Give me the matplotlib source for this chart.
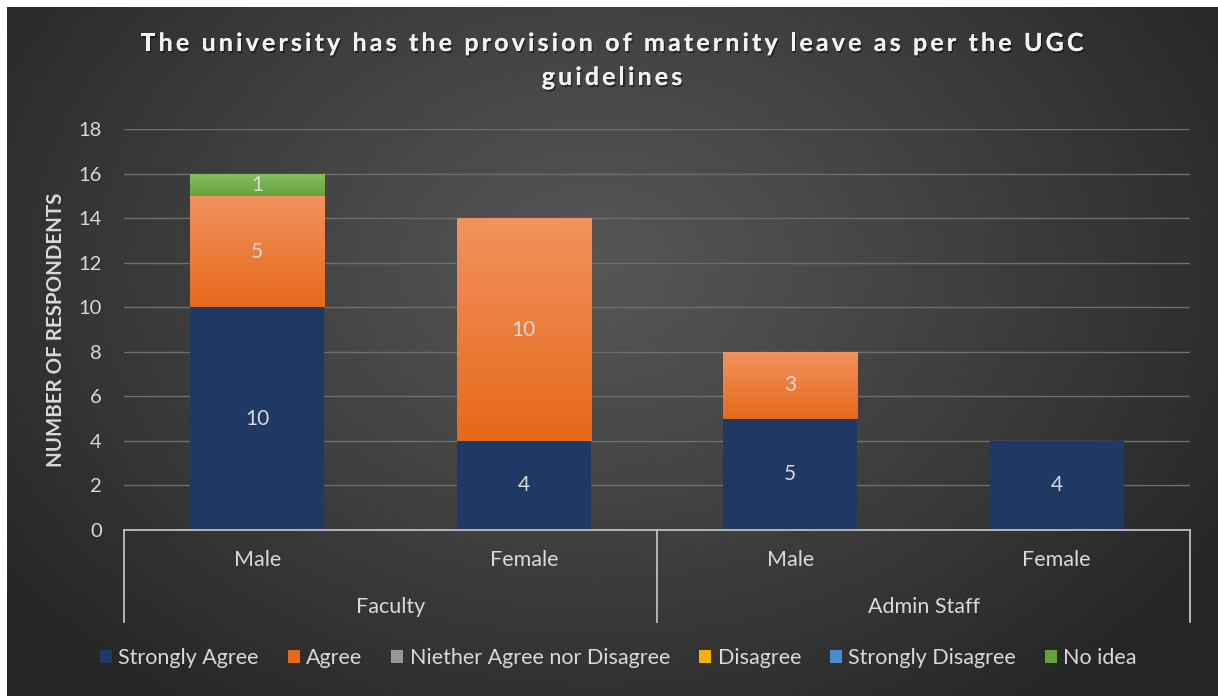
import numpy as np
import matplotlib
matplotlib.use("Agg")
import matplotlib.pyplot as plt
import matplotlib.patheffects as pe
from matplotlib.patches import Patch
from matplotlib.lines import Line2D
from matplotlib.colors import to_rgb
from matplotlib.font_manager import FontProperties, findfont, get_font

plt.rcParams['font.family'] = ['Lato', 'DejaVu Sans']

title_lines = ["The university has the provision of maternity leave as per the UGC",
               "guidelines"]
groups = ["Faculty", "Admin Staff"]
genders = ["Male", "Female", "Male", "Female"]
series_names = ["Strongly Agree", "Agree", "Niether Agree nor Disagree",
                "Disagree", "Strongly Disagree", "No idea"]
strongly_agree = [10, 4, 5, 4]
agree = [5, 10, 3, 0]
neither = [0, 0, 0, 0]
disagree = [0, 0, 0, 0]
strongly_disagree = [0, 0, 0, 0]
no_idea = [1, 0, 0, 0]
series_values = [strongly_agree, agree, neither, disagree, strongly_disagree, no_idea]

# (top colour, bottom colour) of each series' vertical gradient
series_colors = [("#203864", "#203864"), ("#f2925e", "#e6691a"), ("#bdbdbd", "#979797"),
                 ("#ffd24d", "#f5b400"), ("#7ab1e2", "#4a8bc9"), ("#86c060", "#64a33c")]
text_col = "#d9d9d9"

W, H = 1218, 696
DPI = 100
fig = plt.figure(figsize=(W / DPI, H / DPI), dpi=DPI, facecolor="white")

# dark radial-gradient backdrop
bg = fig.add_axes([7 / W, 0, 1 - 7 / W, 1 - 7 / H])
bg.set_axis_off()
yy, xx = np.mgrid[0:400, 0:700]
cx, cy = 340, 150
r = np.sqrt(((xx - cx) / 700) ** 2 + ((yy - cy) / 520) ** 2)
r = np.clip(r / 0.62, 0, 1)
inner, outer = 0x56 / 255, 0x25 / 255
shade = inner + (outer - inner) * r ** 1.1
bg.imshow(np.dstack([shade] * 3), aspect="auto", extent=[0, 1, 0, 1], origin="upper")
bg.set_xlim(0, 1)
bg.set_ylim(0, 1)

x0, x1 = 124, 1190
y0, y1 = 530, 129
ax = fig.add_axes([x0 / W, (H - y0) / H, (x1 - x0) / W, (y0 - y1) / H])
ax.patch.set_alpha(0)
ax.set_xlim(-0.5, 3.5)
ax.set_ylim(0, 18)
ax.set_yticks(range(0, 19, 2))
ax.tick_params(axis="y", length=0, colors=text_col, labelsize=14.5, pad=16)
ax.set_xticks([])
for s in ax.spines.values():
    s.set_visible(False)
ax.grid(axis="y", color="#6e6e6e", linewidth=1)
ax.set_axisbelow(True)

fig.text(56 / W, 1 - 330 / H, "NUMBER OF RESPONDENTS", rotation=90, ha="center",
         va="center", color=text_col, fontsize=14.8, fontweight="bold")

x = np.arange(len(genders))
bw = 0.503
bottom = np.zeros(len(genders))
for vals, (ctop, cbot) in zip(series_values, series_colors):
    vals = np.asarray(vals, dtype=float)
    bars = ax.bar(x, vals, bw, bottom=bottom, color=cbot, linewidth=0, zorder=3)
    for rect, v, b in zip(bars, vals, bottom):
        if v <= 0:
            continue
        if ctop != cbot:
            g = np.linspace(0, 1, 64)[:, None]
            c0, c1 = np.array(to_rgb(ctop)), np.array(to_rgb(cbot))
            img = c0[None, None, :] * (1 - g[..., None]) + c1[None, None, :] * g[..., None]
            img = np.repeat(img, 2, axis=1)
            im = ax.imshow(img, extent=[rect.get_x(), rect.get_x() + bw, b, b + v],
                           aspect="auto", origin="upper", zorder=3.5)
            im.set_clip_path(rect)
        ax.text(rect.get_x() + bw / 2, b + v / 2, f"{int(v)}", ha="center", va="center",
                color=text_col, fontsize=15, zorder=5)
    bottom += vals

# multi-level category axis
axis_col = "#bfbfbf"
line_kw = dict(color=axis_col, linewidth=1.3, clip_on=False, zorder=4)
px = 1 / (y0 - y1)
ax.add_line(Line2D([-0.5, 3.5], [0, 0], **line_kw))
for xv in [-0.5, 1.5, 3.5]:
    ax.add_line(Line2D([xv, xv], [0, -92 * px], transform=ax.get_xaxis_transform(), **line_kw))
for xi, g in zip(x, genders):
    ax.text(xi, -30 * px, g, transform=ax.get_xaxis_transform(), ha="center", va="center",
            color=text_col, fontsize=15.5)
for gi, g in enumerate(groups):
    ax.text(0.5 + 2 * gi, -77 * px, g, transform=ax.get_xaxis_transform(), ha="center",
            va="center", color=text_col, fontsize=15.5)

# letter-spaced title, placed glyph by glyph
t_size = 18
t_prop = FontProperties(family="Lato", weight="bold", size=t_size)
t_font = get_font(findfont(t_prop))
t_font.set_size(t_size, DPI)


def advances(s):
    return np.array([t_font.load_char(ord(c)).linearHoriAdvance / 65536 for c in s])


adv0 = advances(title_lines[0])
spacing = (943 - adv0.sum()) / (len(title_lines[0]) - 1)
shadow = [pe.withSimplePatchShadow(offset=(1, -1.5), shadow_rgbFace="black", alpha=0.45),
          pe.Normal()]
for line, base_y in zip(title_lines, [51, 85]):
    adv = advances(line)
    total = adv.sum() + spacing * (len(line) - 1)
    cur = 612 - total / 2
    for c, a in zip(line, adv):
        if c != " ":
            fig.text(cur / W, 1 - base_y / H, c, ha="left", va="baseline",
                     fontproperties=t_prop, color="#f2f2f2", path_effects=shadow)
        cur += a + spacing

handles = [Patch(facecolor=c[1], edgecolor="none") for c in series_colors]
fig.legend(handles, series_names, loc="center", bbox_to_anchor=(618.5 / W, 38 / H), ncol=6,
           frameon=False, fontsize=15.5, labelcolor=text_col, handlelength=0.55,
           handleheight=0.55, handletextpad=0.3, columnspacing=1.35)

fig.savefig("out.png", dpi=DPI, facecolor=fig.get_facecolor())
